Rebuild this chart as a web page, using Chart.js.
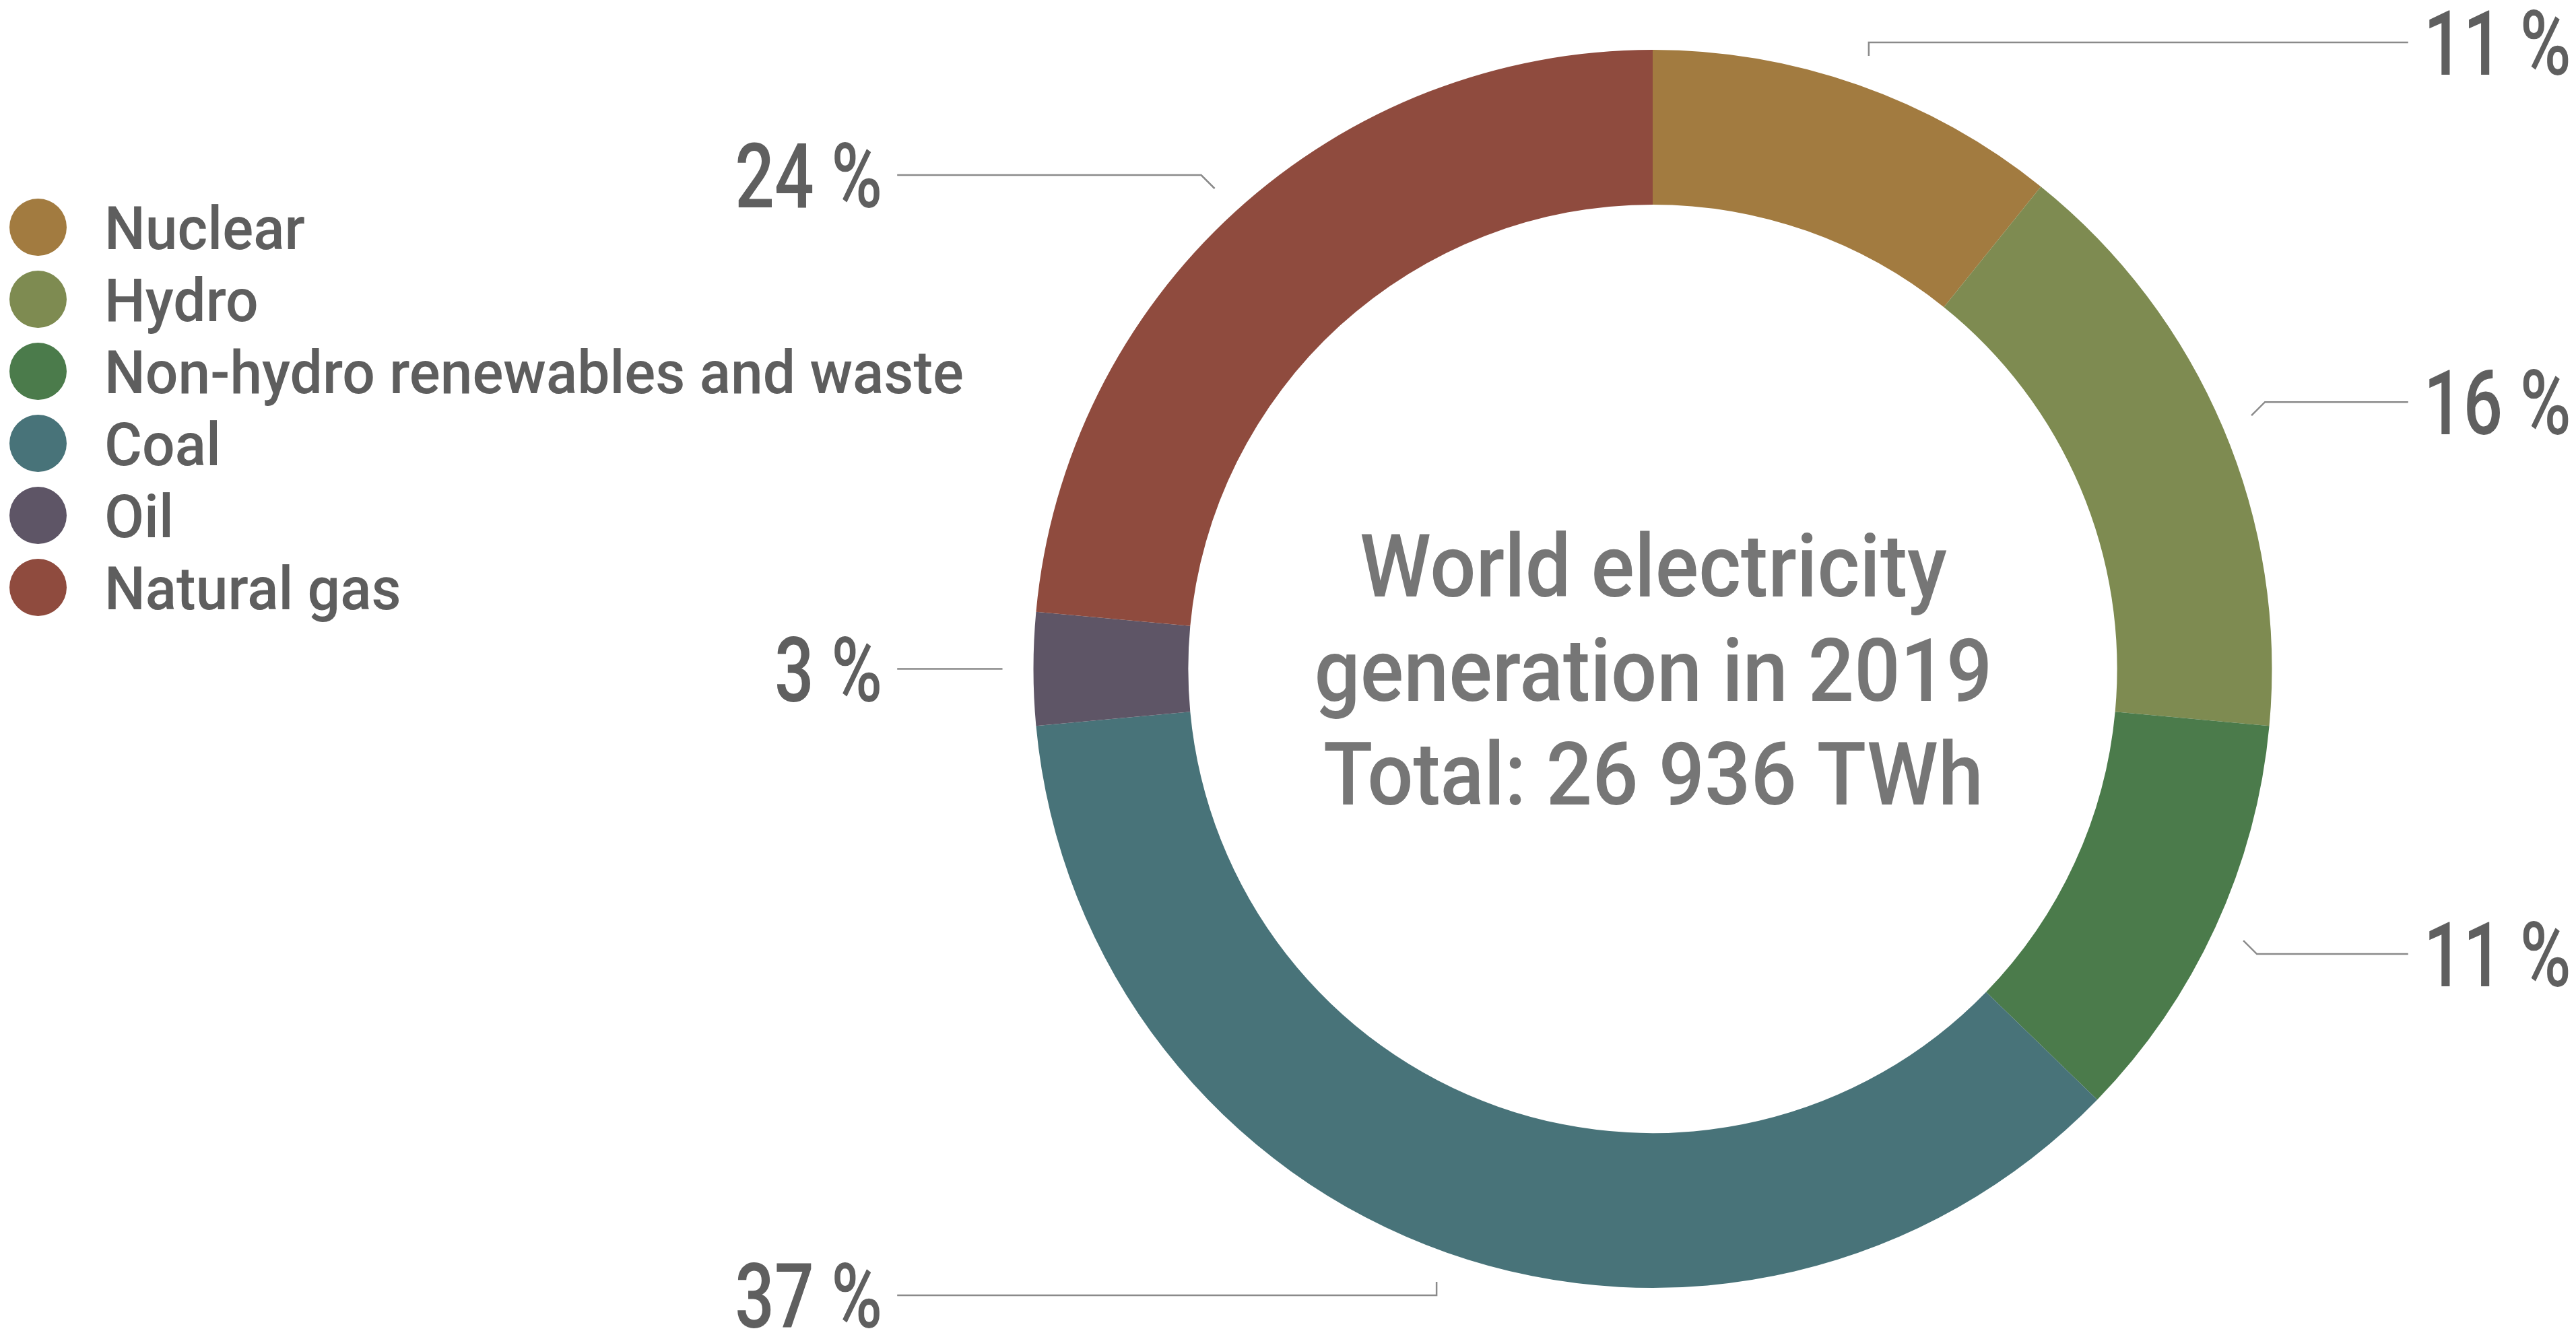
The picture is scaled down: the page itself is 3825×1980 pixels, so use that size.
<!DOCTYPE html>
<html>
<head>
<meta charset="utf-8">
<title>World electricity generation in 2019</title>
<script src="https://cdn.jsdelivr.net/npm/chart.js@4.4.1/dist/chart.umd.min.js"></script>
<style>
  html, body { margin: 0; padding: 0; background: #ffffff; }
  #wrap { width: 3825px; height: 1980px; position: relative; }
</style>
</head>
<body>
<div id="wrap"><canvas id="chart"></canvas></div>
<script>
// Electricity sources and their share of world generation (%)
const categories = ['Nuclear', 'Hydro', 'Non-hydro renewables and waste', 'Coal', 'Oil', 'Natural gas'];
const shares = [11, 16, 11, 37, 3, 24];
const sliceColors = ['#a27b40', '#7e8b51', '#4b7b4b', '#487379', '#5e5566', '#8f4b3e'];
const centerLines = ['World electricity', 'generation in 2019', 'Total: 26 936 TWh'];
const percentSuffix = ' %';

const FONT = 'Roboto, "Open Sans", "DejaVu Sans", sans-serif';

// font size that gives the requested cap height
function fontForCap(ctx, capHeight, weight) {
  ctx.font = `${weight} 100px ${FONT}`;
  const m = ctx.measureText('H');
  const ratio = (m.actualBoundingBoxAscent || 71) / 100;
  return `${weight} ${(capHeight / ratio).toFixed(2)}px ${FONT}`;
}
// horizontal condensing so that a sample string spans the given width
function condense(ctx, sample, width) {
  const w = ctx.measureText(sample).width;
  return Math.min(1, width / w);
}
function drawText(ctx, text, x, y, align, sx) {
  ctx.save();
  ctx.translate(x, y);
  ctx.scale(sx, 1);
  ctx.textAlign = align;
  ctx.textBaseline = 'alphabetic';
  ctx.fillText(text, 0, 0);
  ctx.restore();
}

// legend in the top-left corner, built from the chart's own legend items
const sideLegend = {
  id: 'sideLegend',
  afterDraw(chart) {
    const ctx = chart.ctx;
    const gen = Chart.overrides.doughnut.plugins.legend.labels.generateLabels;
    const items = gen(chart);
    const cx = 56.5, top = 337.5, step = 107, r = 42.5, textX = 155, cap = 64;
    ctx.save();
    ctx.font = fontForCap(ctx, cap, '500');
    const longest = items.reduce((a, b) => (b.text.length > a.length ? b.text : a), '');
    const sx = condense(ctx, longest, 1276);
    items.forEach((it, i) => {
      const cy = top + i * step;
      ctx.beginPath();
      ctx.arc(cx, cy, r, 0, Math.PI * 2);
      ctx.fillStyle = it.fillStyle;
      ctx.fill();
      ctx.fillStyle = '#5e5e5e';
      drawText(ctx, it.text, textX, cy + cap / 2, 'left', sx);
    });
    ctx.restore();
  }
};

// percentage callouts with leader lines, and the caption in the hole
const callouts = {
  id: 'callouts',
  afterDraw(chart) {
    const ctx = chart.ctx;
    const meta = chart.getDatasetMeta(0);
    const arcs = meta.data;
    if (!arcs.length) return;
    const { x: cx, y: cy, outerRadius: R } = arcs[0].getProps(['x', 'y', 'outerRadius'], true);
    const startR = R * 1.05;
    const column = R * 1.22;
    const gap = 23;
    const cap = 96;

    ctx.save();
    ctx.font = fontForCap(ctx, cap, '500');
    const sx = condense(ctx, '24' + percentSuffix, 219);

    arcs.forEach((arc, i) => {
      const { startAngle, endAngle } = arc.getProps(['startAngle', 'endAngle'], true);
      const mid = (startAngle + endAngle) / 2;
      const c = Math.cos(mid), s = Math.sin(mid);
      const right = c >= 0;
      const p0x = cx + startR * c, p0y = cy + startR * s;
      const dy = Math.abs(s) > 0.2 ? Math.sign(s) * 20 : 0;
      const dx = Math.abs(c) < 0.5 ? 0 : Math.sign(c) * Math.abs(dy);
      const kx = p0x + dx, ky = p0y + dy;
      const endX = right ? cx + column : cx - column;

      ctx.beginPath();
      ctx.moveTo(p0x, p0y);
      ctx.lineTo(kx, ky);
      ctx.lineTo(endX, ky);
      ctx.strokeStyle = '#8a8a8a';
      ctx.lineWidth = 2.5;
      ctx.stroke();

      ctx.fillStyle = '#5f5f5f';
      const label = shares[i] + percentSuffix;
      if (right) drawText(ctx, label, endX + gap, ky + cap / 2, 'left', sx);
      else drawText(ctx, label, endX - gap + 1, ky + cap / 2, 'right', sx);
    });

    // caption in the centre of the ring
    const capC = 94;
    ctx.font = fontForCap(ctx, capC, '500');
    const widest = centerLines.reduce((a, b) => (ctx.measureText(b).width > ctx.measureText(a).width ? b : a));
    const sxc = condense(ctx, widest, 1007);
    const lineStep = 154.5;
    ctx.fillStyle = '#767676';
    centerLines.forEach((t, i) => {
      const baseline = cy - 107.5 + i * lineStep;
      drawText(ctx, t, cx + 1, baseline, 'center', sxc);
    });
    ctx.restore();
  }
};

new Chart(document.getElementById('chart'), {
  type: 'doughnut',
  data: {
    labels: categories,
    datasets: [{
      data: shares,
      backgroundColor: sliceColors,
      borderWidth: 0,
      hoverOffset: 0
    }]
  },
  options: {
    responsive: true,
    maintainAspectRatio: false,
    animation: false,
    devicePixelRatio: 1,
    cutout: '75%',
    rotation: 0,
    layout: { padding: { left: 1534, right: 451, top: 74, bottom: 67 } },
    plugins: {
      legend: { display: false },
      tooltip: { enabled: false },
      title: { display: false }
    },
    events: []
  },
  plugins: [sideLegend, callouts]
});
</script>
</body>
</html>
